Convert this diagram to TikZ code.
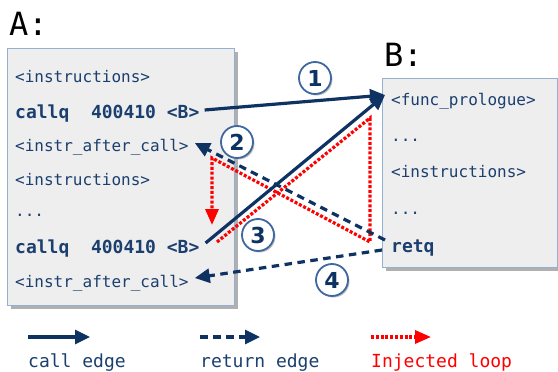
\documentclass[tikz,border=0pt]{standalone}
\usepackage{fontspec}
\setmainfont{DejaVu Sans}
\setsansfont{DejaVu Sans}
\setmonofont{DejaVu Sans Mono}
\usepackage{xcolor}
\usepackage{tikz}
\usetikzlibrary{arrows.meta, positioning, calc, shadows}
\definecolor{navy}{HTML}{0E3363}
\definecolor{codeblue}{HTML}{1B3F6E}
\definecolor{boxgray}{HTML}{EEEEEE}
\definecolor{boxline}{HTML}{95AFD0}
\definecolor{shadowgray}{HTML}{B0B0B0}
\definecolor{ringblue}{HTML}{4067A0}
\definecolor{loopred}{HTML}{FF0000}
\tikzset{
  code/.style={anchor=base west, inner xsep=3pt, inner ysep=0pt, text height=13pt, text depth=3pt,
    text=codeblue, font=\fontsize{16}{18}\selectfont\ttfamily},
  boldcode/.style={code, font=\fontsize{18}{20}\selectfont\ttfamily\bfseries},
  boxtitle/.style={anchor=base west, inner sep=0pt, font=\fontsize{32}{34}\selectfont\ttfamily},
  legendtext/.style={anchor=base west, inner sep=0pt, font=\fontsize{18}{20}\selectfont\ttfamily},
  callarrow/.style={navy, line width=3.2pt, -{Triangle[length=15pt,width=14pt]}},
  retarrow/.style={callarrow, dash pattern=on 7.5pt off 5.5pt},
  looparrow/.style={loopred, line width=3.2pt, dash pattern=on 3pt off 1.8pt, -{Triangle[length=16pt,width=13pt]}},
  stepnum/.style={circle, draw=ringblue, line width=1.8pt, fill=white, minimum size=32pt, inner sep=0pt,
    text=navy, font=\fontsize{22}{22}\selectfont\sffamily\bfseries,
    drop shadow={shadow xshift=1.5pt, shadow yshift=-1.5pt, fill=black!25, opacity=1}},
}

\begin{document}
\begin{tikzpicture}[x=1pt, y=-1pt]
\useasboundingbox (0,0) rectangle (558,372);

% ---------------- LEFT: caller A ----------------
\begin{scope}
\fill[shadowgray] (11,52) rectangle (238,309);
\draw[boxline, fill=boxgray, line width=0.8pt] (7,48) rectangle (234,305);
\node[boxtitle] (titleA) at (9,35) {A:};
\node[code] (a1) at (12,82) {<instructions>};
\node[boldcode] (a2) at (12,118) {callq\ \ 400410 <B>};
\node[code] (a3) at (12,151) {<instr\_after\_call>};
\node[code] (a4) at (12,185) {<instructions>};
\node[code] (a5) at (12,216) {...};
\node[boldcode] (a6) at (12,253) {callq\ \ 400410 <B>};
\node[code] (a7) at (12,287) {<instr\_after\_call>};
\end{scope}

% ---------------- RIGHT: callee B ----------------
\begin{scope}
\fill[shadowgray] (386,82) rectangle (561,271);
\draw[boxline, fill=boxgray, line width=0.8pt] (382,78) rectangle (557,267);
\node[boxtitle] (titleB) at (384,66) {B:};
\node[code] (b1) at (388,105) {<func\_prologue>};
\node[code] (b2) at (388,141) {...};
\node[code] (b3) at (388,177) {<instructions>};
\node[code] (b4) at (388,214) {...};
\node[boldcode] (b5) at (388,252) {retq};
\end{scope}

% ---------------- Edges ----------------
% injected loop (under the other edges)
\coordinate (r1) at (217,242);
\coordinate (r2) at (370,118);
\coordinate (r3) at (370,242);
\coordinate (r4) at (212,158);
\coordinate (r5) at (212,225);
\draw[looparrow] (r1) -- (r2) -- (r3) -- (r4) -- (r5);
% calls and returns
\draw[callarrow] ($(a2.east)+(2,-3)$) -- ($(b1.west)+(-3,-5)$);
\draw[callarrow] ($(a6.east)+(3,-5)$) -- ($(b1.west)+(-3,-5)$);
\draw[retarrow] ($(b5.west)+(-3,-7)$) -- ($(a3.east)+(3,-3)$);
\draw[retarrow] ($(b5.west)+(-6,3)$) -- ($(a7.east)+(3,-4)$);
% step numbers
\node[stepnum] (n1) at (315,78) {1};
\node[stepnum] (n2) at (237,142) {2};
\node[stepnum] (n3) at (258,235) {3};
\node[stepnum] (n4) at (332,280) {4};

% ---------------- Legend ----------------
\coordinate (lc1) at (28,337);
\coordinate (lc2) at (90,337);
\coordinate (lr1) at (200,337);
\coordinate (lr2) at (260,337);
\coordinate (ll1) at (371,337);
\coordinate (ll2) at (431,337);
\draw[callarrow] (lc1) -- (lc2);
\draw[retarrow] (lr1) -- (lr2);
\draw[looparrow] (ll1) -- (ll2);
\node[legendtext, text=codeblue] (tc) at (28,367) {call edge};
\node[legendtext, text=codeblue] (tr) at (200,367) {return edge};
\node[legendtext, text=loopred] (tl) at (371,367) {Injected loop};
\end{tikzpicture}
\end{document}
